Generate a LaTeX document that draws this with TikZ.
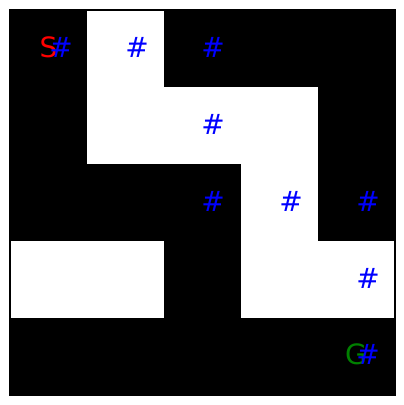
\documentclass[tikz,border=0pt]{standalone}
\usepackage{fontspec}
\setmainfont{DejaVu Sans}
\definecolor{mgreen}{RGB}{0,128,0}
\tikzset{
  cellb/.style={fill=black,draw=none},
  cellw/.style={fill=white,draw=none},
  mark/.style={},
  lbl/.style={font=\fontsize{21}{21}\selectfont,inner sep=0pt,anchor=center},
  hash/.style={lbl,text=blue},
}
\begin{document}
\begin{tikzpicture}[x=0.75pt,y=-0.75pt]
\useasboundingbox[fill=white] (0,0) rectangle (404,405);
% rows top to bottom: 1 = black, 0 = white
\foreach \r/\row in {0/{1,0,1,1,1},1/{1,0,0,0,1},2/{1,1,1,0,1},3/{0,0,1,0,0},4/{1,1,1,1,1}}{
  \foreach \v [count=\c from 0] in \row {
    \ifnum\v=1
      \fill[black] ({10+77*\c},{10+77*\r}) rectangle ++(77,77);
    \fi
  }
}
\draw[black,line width=0.8pt] (10,10) rectangle (395,395);
\node[lbl,text=red] (s) at (48.5,47) {S};
\node[lbl,text=mgreen] (g) at (356,354) {G};
\foreach \x/\y [count=\k] in {61/47,137/47,213/47,213/124,213/201,291/201,368/201,368/278,368/354}{
  \node[hash] (h\k) at (\x,\y) {\#};
}
\end{tikzpicture}
\end{document}
